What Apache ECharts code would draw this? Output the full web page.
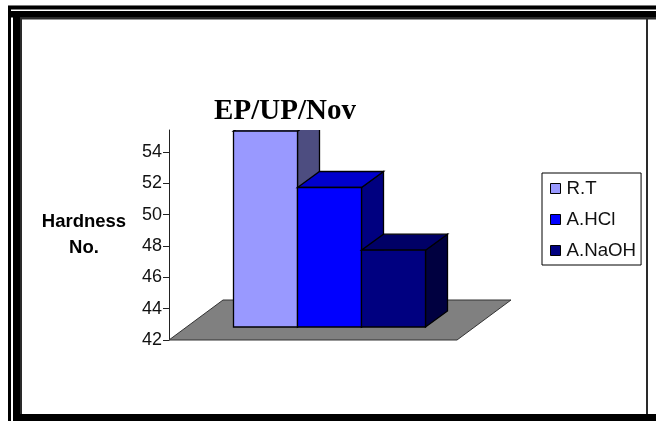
<!DOCTYPE html>
<html><head><meta charset="utf-8">
<script src="https://cdn.jsdelivr.net/npm/echarts@6/dist/echarts.min.js"></script>
<style>html,body{margin:0;padding:0;background:#fff}#c{width:656px;height:421px}</style>
</head><body><div id="c"></div>
<script>
const categories = ['EP/UP/Nov'];
const seriesNames = ['R.T', 'A.HCl', 'A.NaOH'];
const rtValues = [54.5];
const hclValues = [50.9];
const naohValues = [46.9];
const tickLabels = [42, 44, 46, 48, 50, 52, 54];
const axisMin = 42, axisMax = 55.4;
const colors = {
  'R.T': ['#9999ff', '#7a7acc', '#4d4d80'],
  'A.HCl': ['#0000ff', '#0000cc', '#000080'],
  'A.NaOH': ['#000080', '#000066', '#000040']
};
const DX = 22, DY = 16, FLOOR_DX = 54, FLOOR_DY = 40, FRONT_OX = 16.5, FRONT_OY = 13, BAR_W = 64;

function poly(points, fill) {
  return { type: 'polygon', shape: { points }, style: { fill, stroke: '#000', lineWidth: 1.3 } };
}
function barRenderer(index) {
  return function (params, api) {
    const c = colors[seriesNames[index]];
    const centre = api.coord([api.value(0), axisMin]);
    const top = api.coord([api.value(0), api.value(1)]);
    const x0 = centre[0] + FRONT_OX + (index - 1.5) * BAR_W;
    const x1 = x0 + BAR_W;
    const yb = centre[1] - FRONT_OY, yt = top[1] - FRONT_OY;
    return { type: 'group', children: [
      poly([[x1, yb], [x1 + DX, yb - DY], [x1 + DX, yt - DY], [x1, yt]], c[2]),
      poly([[x0, yt], [x1, yt], [x1 + DX, yt - DY], [x0 + DX, yt - DY]], c[1]),
      poly([[x0, yb], [x1, yb], [x1, yt], [x0, yt]], c[0])
    ]};
  };
}
function floorRenderer(params, api) {
  const cs = params.coordSys;
  const y = api.coord([api.value(0), axisMin])[1];
  const l = cs.x, r = cs.x + cs.width;
  return { type: 'polygon',
    shape: { points: [[l, y], [r, y], [r + FLOOR_DX, y - FLOOR_DY], [l + FLOOR_DX, y - FLOOR_DY]] },
    style: { fill: '#808080', stroke: '#333', lineWidth: 1 } };
}
const rect = (x, y, w, h, fill) => ({ type: 'rect', silent: true, z: 100, shape: { x, y, width: w, height: h }, style: { fill } });

const chart = echarts.init(document.getElementById('c'), null, { renderer: 'canvas' });
chart.setOption({
  animation: false,
  backgroundColor: '#fff',
  title: { text: categories[0], left: 280, top: 92, textAlign: 'center',
    textStyle: { fontFamily: 'Liberation Serif', fontWeight: 'bold', fontSize: 29, color: '#000' } },
  grid: { left: 169, top: 130, width: 288, height: 210 },
  xAxis: { type: 'category', data: categories, axisLine: { show: false }, axisTick: { show: false }, axisLabel: { show: false } },
  yAxis: { type: 'value', min: axisMin, max: axisMax, interval: 2, splitLine: { show: false },
    name: 'Hardness\nNo.', nameLocation: 'middle', nameGap: 85, nameRotate: 0,
    nameTextStyle: { fontFamily: 'Liberation Sans', fontWeight: 'bold', fontSize: 18.5, color: '#000', lineHeight: 26, align: 'center' },
    axisLine: { show: true, lineStyle: { color: '#222', width: 1 } },
    axisTick: { show: true, length: 6, lineStyle: { color: '#222' }, customValues: tickLabels },
    axisLabel: { margin: 7, color: '#111', fontFamily: 'Liberation Sans', fontSize: 18, customValues: tickLabels } },
  legend: { orient: 'vertical', left: 542, top: 173, padding: [6, 5, 5, 8], itemGap: 12,
    itemWidth: 10, itemHeight: 10, borderColor: '#000', borderWidth: 1, icon: 'rect',
    textStyle: { fontFamily: 'Liberation Sans', fontSize: 18.7, color: '#111', padding: [0, 0, 0, 1] },
    data: seriesNames.map(name => ({ name, itemStyle: { color: colors[name][0], borderColor: '#000', borderWidth: 1 } })) },
  graphic: [
    rect(8, 5, 648, 1, '#777'),
    rect(8, 6, 648, 3.4, '#000'),
    rect(11, 11, 645, 6.4, '#000'),
    rect(20, 17, 636, 2.5, '#2a2a2a'),
    rect(8, 6, 3, 415, '#000'),
    rect(13, 11, 7, 410, '#000'),
    rect(20, 17, 2, 397, '#2a2a2a'),
    rect(646, 17, 2, 397, '#2a2a2a'),
    rect(13, 414, 643, 7, '#000')
  ],
  series: [
    { type: 'custom', name: '_floor', clip: false, z: 1, renderItem: floorRenderer, data: [[0, axisMin]], encode: { x: 0, y: 1 }, silent: true },
    ...[rtValues, hclValues, naohValues].map((vals, i) => ({
      type: 'custom', name: seriesNames[i], clip: true, z: 5 + i,
      itemStyle: { color: colors[seriesNames[i]][0] },
      renderItem: barRenderer(i), encode: { x: 0, y: 1 },
      data: vals.map((v, k) => [k, v])
    }))
  ]
});
</script></body></html>
